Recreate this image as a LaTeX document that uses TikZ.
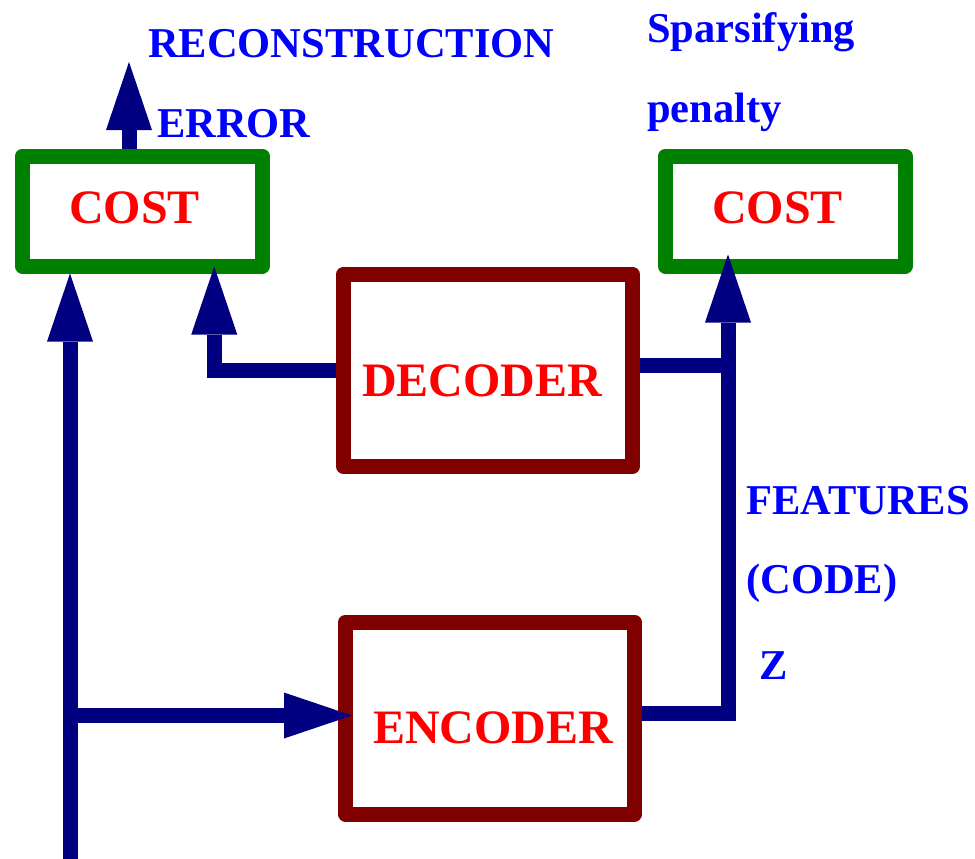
\documentclass[tikz,border=0pt]{standalone}
\usepackage{fontspec}
\setmainfont{Liberation Serif}
\usetikzlibrary{arrows.meta,calc}

\definecolor{boxgreen}{RGB}{0,128,0}
\definecolor{boxbrown}{RGB}{128,0,0}
\definecolor{wire}{RGB}{0,0,128}
\definecolor{lblblue}{RGB}{0,0,255}
\definecolor{lblred}{RGB}{255,0,0}

\begin{document}
\begin{tikzpicture}[x=1pt,y=-1pt,
  costbox/.style={draw=boxgreen, line width=15pt, line join=round, inner sep=0pt,
                  minimum width=240pt, minimum height=110pt},
  unitbox/.style={draw=boxbrown, line width=15pt, line join=round, inner sep=0pt,
                  minimum width=289pt, minimum height=192pt},
  boxlabel/.style={anchor=base west, inner sep=0pt, text=lblred,
                   font=\fontsize{48}{56}\selectfont\bfseries},
  note/.style={anchor=base west, inner sep=0pt, text=lblblue,
               font=\fontsize{42.5}{50}\selectfont\bfseries},
  wireline/.style={draw=wire, line width=15pt},
  flow/.style={wireline, -{Triangle[width=46pt,length=68pt,line width=0pt]}},
]
\useasboundingbox (0,0) rectangle (975,859);

% cost blocks and the two networks
\node[costbox] (costL) at (142.25,211) {};
\node[costbox] (costR) at (785.25,211) {};
\node[unitbox] (dec) at (488,370.25) {};
\node[unitbox] (enc) at (490,718) {};

% free ends and joints of the wiring
\coordinate (in) at (70,859);
\coordinate (br) at (70,715.5);
\coordinate (errtip) at (129,62);
\coordinate (j) at (728,365.5);

% input: to the reconstruction cost and into the encoder
\draw[flow] (in) -- (in |- costL.south);
\draw[flow] (br) -- ($(br -| enc.west)+(14,0)$);

% code: encoder output joins the decoder output, feeds the sparsity cost
\draw[wireline] ($(enc.east)+(0,-5)$) -| (j);
\draw[wireline] (dec.east |- j) -- (j);
\draw[flow] (j) -- ($(j |- costR.south)+(0,-19)$);

% decoder output to the reconstruction cost
\draw[flow] (dec.west) -| ($(costL.south)+(72,-7)$);

% reconstruction error out of the cost block
\draw[flow] (costL.north -| errtip) -- (errtip);

% labels
\node[boxlabel] (costLlbl) at (69,223) {COST};
\node[boxlabel] (costRlbl) at (712,223) {COST};
\node[boxlabel] (declbl) at (362,396) {DECODER};
\node[boxlabel] (enclbl) at (373,743) {ENCODER};

\node[note] (recon) at (148,58) {RECONSTRUCTION};
\node[note] (err) at (157,137) {ERROR};
\node[note] (spars) at (647,43) {Sparsifying};
\node[note] (pen) at (647,122) {penalty};
\node[note] (feat) at (746,514) {FEATURES};
\node[note] (code) at (746,593) {(CODE)};
\node[note] (zlbl) at (759,679) {Z};
\end{tikzpicture}
\end{document}
